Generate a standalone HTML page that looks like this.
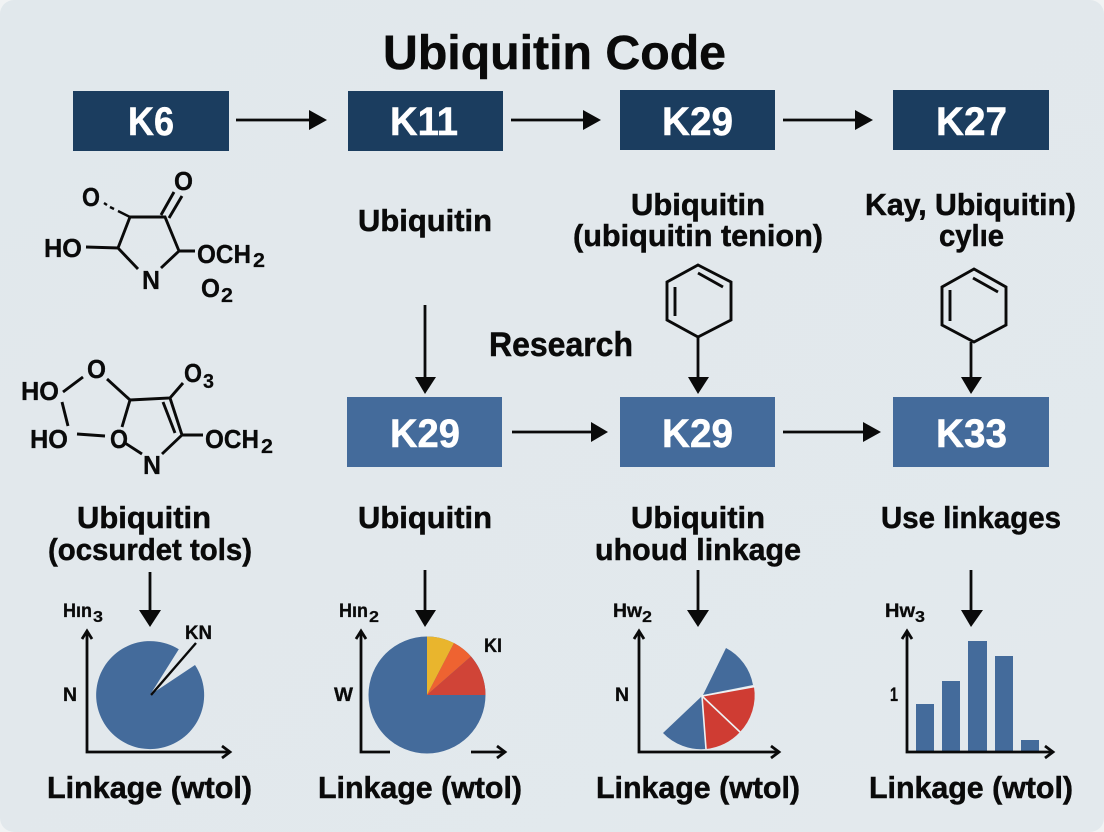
<!DOCTYPE html>
<html><head><meta charset="utf-8"><style>
html,body{margin:0;padding:0;width:1104px;height:832px;overflow:hidden;background:#f1f3f4}
svg{display:block}
text{font-family:"Liberation Sans",sans-serif;font-weight:700;fill:#0a0a0a;stroke:#0a0a0a;stroke-width:.5}
.w{fill:#fff;stroke:#fff}
.l{font-size:31px}
.m{font-size:26px;stroke-width:.3}
.s{font-size:20px;stroke-width:.2}
.c{font-size:19px;stroke-width:.3}
.c2{font-size:16px;stroke-width:.2}
.b{font-size:40px}
.ln{stroke:#0a0a0a;stroke-width:2.8;fill:none}
.mo{stroke:#0a0a0a;stroke-width:2.9;fill:none}
.ax{stroke:#0a0a0a;stroke-width:2.8;fill:none}
</style></head><body>
<svg width="1104" height="832" viewBox="0 0 1104 832" xmlns="http://www.w3.org/2000/svg">
<defs>
<linearGradient id="bg" x1="0" y1="0" x2="1" y2="1"><stop offset="0" stop-color="#e1e8ec"/><stop offset="1" stop-color="#e3e9ed"/></linearGradient>
</defs>
<rect x="0" y="0" width="1104" height="832" rx="14" fill="url(#bg)"/>

<text x="383" y="69" font-size="48" textLength="343" lengthAdjust="spacingAndGlyphs">Ubiquitin Code</text>

<!-- top boxes -->
<rect x="73" y="91" width="156" height="60" fill="#1b3d5f"/>
<rect x="348" y="91" width="155" height="60" fill="#1b3d5f"/>
<rect x="620" y="90" width="155" height="60" fill="#1b3d5f"/>
<rect x="893" y="90" width="156" height="60" fill="#1b3d5f"/>
<text class="b w" x="128" y="135" textLength="46" lengthAdjust="spacingAndGlyphs">K6</text>
<text class="b w" x="390" y="135" textLength="68" lengthAdjust="spacingAndGlyphs">K11</text>
<text class="b w" x="662" y="135" textLength="71" lengthAdjust="spacingAndGlyphs">K29</text>
<text class="b w" x="936" y="135" textLength="71" lengthAdjust="spacingAndGlyphs">K27</text>

<!-- second boxes -->
<rect x="347" y="397" width="155" height="70" fill="#446b9b"/>
<rect x="620" y="397" width="155" height="70" fill="#446b9b"/>
<rect x="893" y="397" width="156" height="70" fill="#446b9b"/>
<text class="b w" x="390" y="447" textLength="70" lengthAdjust="spacingAndGlyphs">K29</text>
<text class="b w" x="662" y="447" textLength="71" lengthAdjust="spacingAndGlyphs">K29</text>
<text class="b w" x="936" y="447" textLength="71" lengthAdjust="spacingAndGlyphs">K33</text>

<!-- arrows -->
<g class="ln">
<path d="M236 120H312M511 120H586M783 120H858M512 432H592M783 432H865"/>
<path d="M425 305V380M698 337V380M971 342V380M150 572V612M425 570V612M698 570V612M971 570V612"/>
</g>
<g fill="#0a0a0a">
<path d="M309 110L327 120L309 130Z"/><path d="M583 110L601 120L583 130Z"/><path d="M855 110L873 120L855 130Z"/>
<path d="M591 422L608 432L591 442Z"/><path d="M863 422L881 432L863 442Z"/>
<path d="M415 377H436L425 394Z"/><path d="M688 377H709L698 394Z"/><path d="M961 377H982L971 394Z"/>
<path d="M139 610H161L150 627Z"/><path d="M415 610H436L425 627Z"/><path d="M687 610H709L698 627Z"/><path d="M961 610H983L971 627Z"/>
</g>

<!-- labels -->
<text class="l" x="358" y="231" textLength="134" lengthAdjust="spacingAndGlyphs">Ubiquitin</text>
<text class="l" x="631" y="215" textLength="134" lengthAdjust="spacingAndGlyphs">Ubiquitin</text>
<text class="l" x="573" y="246" textLength="250" lengthAdjust="spacingAndGlyphs">(ubiquitin tenion)</text>
<text class="l" x="865" y="215" textLength="211" lengthAdjust="spacingAndGlyphs">Kay, Ubiquitin)</text>
<text class="l" x="939" y="246" textLength="65" lengthAdjust="spacingAndGlyphs">cylıe</text>
<text x="489" y="356" font-size="34" textLength="144" lengthAdjust="spacingAndGlyphs">Research</text>
<text class="l" x="77" y="528" textLength="134" lengthAdjust="spacingAndGlyphs">Ubiquitin</text>
<text class="l" x="48" y="560" textLength="204" lengthAdjust="spacingAndGlyphs">(ocsurdet tols)</text>
<text class="l" x="358" y="528" textLength="134" lengthAdjust="spacingAndGlyphs">Ubiquitin</text>
<text class="l" x="631" y="528" textLength="134" lengthAdjust="spacingAndGlyphs">Ubiquitin</text>
<text class="l" x="595" y="560" textLength="206" lengthAdjust="spacingAndGlyphs">uhoud linkage</text>
<text class="l" x="881" y="528" textLength="180" lengthAdjust="spacingAndGlyphs">Use linkages</text>
<text class="l" x="47" y="798" textLength="205" lengthAdjust="spacingAndGlyphs">Linkage (wtol)</text>
<text class="l" x="318" y="798" textLength="204" lengthAdjust="spacingAndGlyphs">Linkage (wtol)</text>
<text class="l" x="596" y="798" textLength="204" lengthAdjust="spacingAndGlyphs">Linkage (wtol)</text>
<text class="l" x="869" y="798" textLength="204" lengthAdjust="spacingAndGlyphs">Linkage (wtol)</text>

<!-- molecule 1 -->
<g class="mo">
<path d="M86 247L118 248L130 217H165L179 251L161 268M118 248L138 269M179 251H195"/>
<path d="M161 215L174 192M169 218L182 196"/>
<path d="M130 217L118 211M114 209L110 207M107 205L104 203" stroke-width="2.4"/>
</g>
<text class="m" x="82" y="206" textLength="18" lengthAdjust="spacingAndGlyphs">O</text>
<text class="m" x="174" y="190" textLength="19" lengthAdjust="spacingAndGlyphs">O</text>
<text class="m" x="44" y="257" textLength="38" lengthAdjust="spacingAndGlyphs">HO</text>
<text class="m" x="197" y="263" textLength="54" lengthAdjust="spacingAndGlyphs">OCH</text>
<text class="s" x="253" y="267" textLength="12" lengthAdjust="spacingAndGlyphs">2</text>
<text class="m" x="142" y="289" textLength="18" lengthAdjust="spacingAndGlyphs">N</text>
<text class="m" x="201" y="297" textLength="19" lengthAdjust="spacingAndGlyphs">O</text>
<text class="s" x="221" y="302" textLength="12" lengthAdjust="spacingAndGlyphs">2</text>

<!-- molecule 2 -->
<g class="mo">
<path d="M63 392L83 377M62 402L68 426M77 434L105 436M107 379L130 400L122 427M130 400L170 398L183 383M170 398L182 435M163 402L175 433M182 435H203M182 435L162 454M125 443L142 454"/>
</g>
<text class="m" x="87" y="378" textLength="19" lengthAdjust="spacingAndGlyphs">O</text>
<text class="m" x="21" y="400" textLength="38" lengthAdjust="spacingAndGlyphs">HO</text>
<text class="m" x="184" y="382" textLength="18" lengthAdjust="spacingAndGlyphs">O</text>
<text class="s" x="203" y="388" textLength="11" lengthAdjust="spacingAndGlyphs">3</text>
<text class="m" x="30" y="448" textLength="38" lengthAdjust="spacingAndGlyphs">HO</text>
<text class="m" x="110" y="448" textLength="18" lengthAdjust="spacingAndGlyphs">O</text>
<text class="m" x="143" y="474" textLength="18" lengthAdjust="spacingAndGlyphs">N</text>
<text class="m" x="205" y="448" textLength="54" lengthAdjust="spacingAndGlyphs">OCH</text>
<text class="s" x="261" y="453" textLength="12" lengthAdjust="spacingAndGlyphs">2</text>

<!-- hexagons -->
<g class="mo">
<path d="M698 265L731 282V320L698 337L667 320V282Z"/>
<path d="M698 273L723 287M675 287V316"/>
<path d="M974 269L1006 287V325L974 342L942 325V287Z"/>
<path d="M973 278L998 292M950 290V321"/>
</g>

<!-- chart 1 -->
<path d="M150 695L178.8 649.3A54 54 0 1 0 195 665Z" fill="#446b9b"/>
<path d="M151 695L196 643" stroke="#0a0a0a" stroke-width="2.4"/>
<g class="ax">
<path d="M87 632V752H228"/><path d="M82 639L87 631L92 639" stroke-width="2.8"/><path d="M222 746L230 752L222 758"/>
</g>
<text class="c" x="63" y="617" textLength="29" lengthAdjust="spacingAndGlyphs">Hın</text>
<text class="c2" x="93" y="622" textLength="10" lengthAdjust="spacingAndGlyphs">3</text>
<text class="c" x="63" y="701" textLength="14" lengthAdjust="spacingAndGlyphs">N</text>
<text class="c" x="185" y="639" textLength="27" lengthAdjust="spacingAndGlyphs">KN</text>

<!-- chart 2 -->
<circle cx="427" cy="695" r="58.5" fill="#446b9b"/>
<path d="M427 695V636.5A58.5 58.5 0 0 1 454 643Z" fill="#e9b52d"/>
<path d="M427 695L454 643A58.5 58.5 0 0 1 471 656.5Z" fill="#ee6331"/>
<path d="M427 695L471 656.5A58.5 58.5 0 0 1 485.5 695Z" fill="#d04437"/>
<g class="ax">
<path d="M361 632V752H390"/><path d="M356 639L361 631L366 639"/><path d="M471 752H503"/><path d="M497 746L505 752L497 758"/>
</g>
<text class="c" x="339" y="617" textLength="29" lengthAdjust="spacingAndGlyphs">Hın</text>
<text class="c2" x="369" y="622" textLength="10" lengthAdjust="spacingAndGlyphs">2</text>
<text class="c" x="334" y="701" textLength="19" lengthAdjust="spacingAndGlyphs">W</text>
<text class="c" x="484" y="652" textLength="18" lengthAdjust="spacingAndGlyphs">KI</text>

<!-- chart 3 -->
<path d="M703 695L726 648A52 52 0 0 1 753 685Z" fill="#446b9b"/>
<path d="M702 696L754 687A53 53 0 0 1 740 732Z" fill="#cf3c33"/>
<path d="M702 696L740 732A53 53 0 0 1 706 749Z" fill="#cf3c33"/>
<path d="M702 696L706 749A53 53 0 0 1 663 733Z" fill="#446b9b"/>
<path d="M702 696L755 686.5M702 696L740 732M702 696L706 749" stroke="#eef2f4" stroke-width="1.6" fill="none"/>
<g class="ax">
<path d="M639 632V752H777"/><path d="M634 639L639 631L644 639"/><path d="M771 746L779 752L771 758"/>
</g>
<text class="c" x="613" y="617" textLength="29" lengthAdjust="spacingAndGlyphs">Hw</text>
<text class="c2" x="642" y="622" textLength="10" lengthAdjust="spacingAndGlyphs">2</text>
<text class="c" x="615" y="701" textLength="14" lengthAdjust="spacingAndGlyphs">N</text>

<!-- chart 4 -->
<g fill="#446b9b">
<rect x="916" y="704" width="18" height="48"/>
<rect x="942" y="681" width="18" height="71"/>
<rect x="968" y="641" width="19" height="111"/>
<rect x="995" y="656" width="18" height="96"/>
<rect x="1021" y="740" width="18" height="12"/>
</g>
<g class="ax">
<path d="M907 632V752H1051"/><path d="M902 639L907 631L912 639"/><path d="M1045 746L1053 752L1045 758"/>
</g>
<text class="c" x="885" y="617" textLength="30" lengthAdjust="spacingAndGlyphs">Hw</text>
<text class="c2" x="915" y="622" textLength="10" lengthAdjust="spacingAndGlyphs">3</text>
<text class="c" x="890" y="701" textLength="8" lengthAdjust="spacingAndGlyphs">1</text>
</svg>
</body></html>
